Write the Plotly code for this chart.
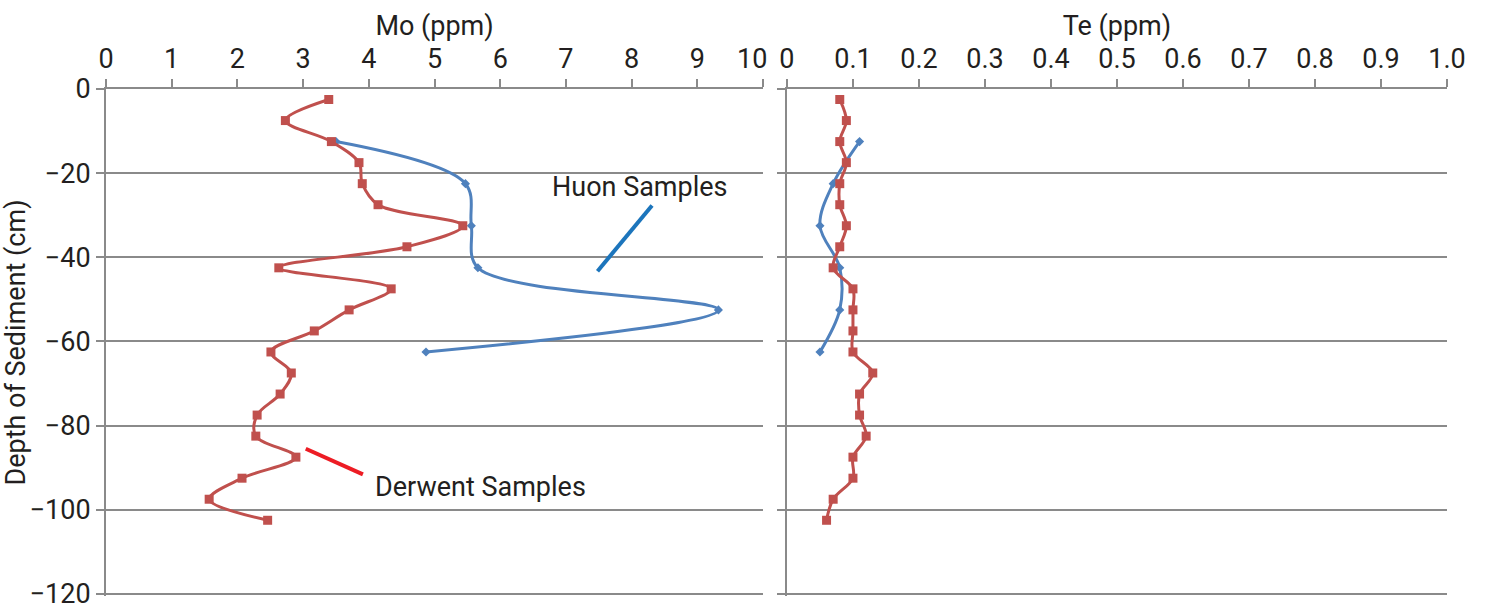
import plotly.graph_objects as go
from plotly.subplots import make_subplots

# Sediment core depths (cm, negative downward)
derwent_depth = [-2.5, -7.5, -12.5, -17.5, -22.5, -27.5, -32.5, -37.5, -42.5, -47.5,
                 -52.5, -57.5, -62.5, -67.5, -72.5, -77.5, -82.5, -87.5, -92.5, -97.5, -102.5]
huon_depth = [-12.5, -22.5, -32.5, -42.5, -52.5, -62.5]

# Molybdenum (ppm)
derwent_mo = [3.39, 2.73, 3.43, 3.85, 3.90, 4.14, 5.43, 4.58, 2.63, 4.34,
              3.70, 3.17, 2.51, 2.82, 2.65, 2.30, 2.28, 2.89, 2.07, 1.57, 2.46]
huon_mo = [3.50, 5.47, 5.56, 5.66, 9.32, 4.87]

# Tellurium (ppm)
derwent_te = [0.08, 0.09, 0.08, 0.09, 0.08, 0.08, 0.09, 0.08, 0.07, 0.10,
              0.10, 0.10, 0.10, 0.13, 0.11, 0.11, 0.12, 0.10, 0.10, 0.07, 0.06]
huon_te = [0.11, 0.07, 0.05, 0.08, 0.08, 0.05]

mo_ticks = list(range(0, 11))
# the last Mo label is drawn separately, nudged left so it clears the Te "0"
mo_ticktext = [str(v) for v in mo_ticks[:-1]] + [""]
te_ticks = [round(i * 0.1, 1) for i in range(0, 11)]
te_ticktext = ["0"] + [f"{v:.1f}" for v in te_ticks[1:]]
depth_ticks = [0, -20, -40, -60, -80, -100, -120]

RED = "#C0504D"
BLUE = "#4F81BD"
GRID = "#8A8A8A"
TEXT = "#231F20"
FONT = "Roboto"
FS = 27

fig = make_subplots(rows=1, cols=2, horizontal_spacing=0.0)

def add_series(col, xs_red, xs_blue):
    fig.add_trace(go.Scatter(
        x=xs_blue, y=huon_depth, mode="lines+markers", name="Huon",
        line=dict(color=BLUE, width=3, shape="spline", smoothing=1.0),
        marker=dict(symbol="diamond", size=7, color=BLUE),
        showlegend=False), row=1, col=col)
    fig.add_trace(go.Scatter(
        x=xs_red, y=derwent_depth, mode="lines+markers", name="Derwent",
        line=dict(color=RED, width=3, shape="spline", smoothing=1.0),
        marker=dict(symbol="square", size=9, color=RED),
        showlegend=False), row=1, col=col)

add_series(1, derwent_mo, huon_mo)
add_series(2, derwent_te, huon_te)

axis_common = dict(
    showline=True, linecolor=GRID, linewidth=2,
    ticks="outside", ticklen=8, tickwidth=2, tickcolor=GRID,
    tickfont=dict(family=FONT, size=FS, color=TEXT),
    ticklabeloverflow="allow",
    zeroline=False,
)

fig.update_xaxes(
    side="top", range=[0, 10], tickvals=mo_ticks, ticktext=mo_ticktext, showgrid=False,
    domain=[0.0, 0.490],
    title=dict(text="Mo (ppm)", font=dict(family=FONT, size=FS, color=TEXT), standoff=0),
    **axis_common, row=1, col=1)
fig.update_xaxes(
    side="top", range=[0, 1.0], tickvals=te_ticks, ticktext=te_ticktext, showgrid=False,
    domain=[0.5078, 1.0],
    title=dict(text="Te (ppm)", font=dict(family=FONT, size=FS, color=TEXT), standoff=0),
    **axis_common, row=1, col=2)

depth_range = [-120.5, 0]
fig.update_yaxes(
    range=depth_range, tickvals=depth_ticks, showgrid=True, gridcolor=GRID, gridwidth=2,
    title=dict(text="Depth of Sediment (cm)", font=dict(family=FONT, size=FS, color=TEXT), standoff=2),
    **axis_common, row=1, col=1)
fig.update_yaxes(
    range=depth_range, tickvals=depth_ticks, showgrid=True, gridcolor=GRID, gridwidth=2,
    showticklabels=False,
    **axis_common, row=1, col=2)

# Final Mo tick label
fig.add_annotation(x=mo_ticks[-1], y=1, xref="x", yref="paper", text=str(mo_ticks[-1]),
                   showarrow=False, xanchor="center", yanchor="middle", xshift=-11, yshift=30,
                   font=dict(family=FONT, size=FS, color=TEXT))

# Leader lines and series labels
fig.add_shape(type="line", xref="x", yref="y", x0=8.31, y0=-27.7, x1=7.48, y1=-43.3,
              line=dict(color="#1C75BC", width=4))
fig.add_shape(type="line", xref="x", yref="y", x0=3.04, y0=-85.5, x1=3.91, y1=-91.6,
              line=dict(color="#ED1C24", width=4))
fig.add_annotation(x=8.12, y=-23.3, xref="x", yref="y", text="Huon Samples", showarrow=False,
                   font=dict(family=FONT, size=FS, color=TEXT))
fig.add_annotation(x=5.70, y=-94.6, xref="x", yref="y", text="Derwent Samples", showarrow=False,
                   font=dict(family=FONT, size=FS, color=TEXT))

fig.update_layout(
    width=1487, height=610,
    margin=dict(l=106, r=40, t=89, b=14, autoexpand=False),
    plot_bgcolor="white", paper_bgcolor="white",
)

fig.write_html("out.html")
